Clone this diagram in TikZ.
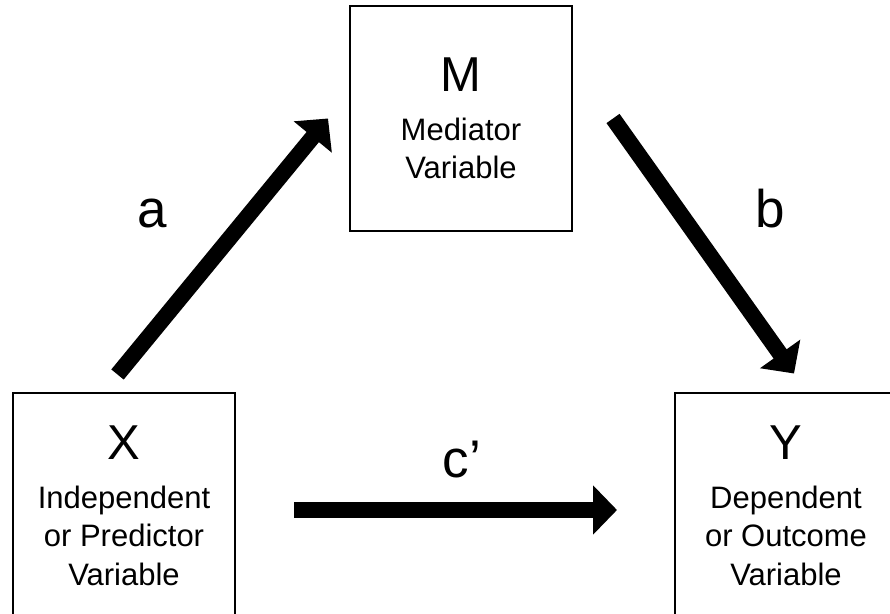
\documentclass[tikz,border=0pt]{standalone}
\usepackage{fontspec}
\setmainfont{Liberation Sans}
\usetikzlibrary{arrows.meta}

\tikzset{
  varbox/.style={draw, line width=2pt, minimum width=222pt, minimum height=225pt,
    align=center, inner sep=0pt, font=\fontsize{31}{38.5}\selectfont},
  bigarrow/.style={line width=16pt, -{Triangle[length=24pt,width=48pt]}},
  pathlabel/.style={font=\fontsize{53}{53}\selectfont, inner sep=0pt}
}
\newcommand{\bigvar}[1]{{\fontsize{49}{49}\selectfont #1}}

\begin{document}
\begin{tikzpicture}[x=1pt,y=1pt]
  \useasboundingbox (0,0) rectangle (890,613);
  \clip (0,0) rectangle (890,613);

  % variable boxes
  \node[varbox] (M) at (461,494.5) {\bigvar{M}\\[10pt] Mediator\\ Variable};
  \node[varbox] (X) at (124,107) {\bigvar{X}\\[10pt] Independent\\ or Predictor\\ Variable};
  \node[varbox] (Y) at (786,107) {\bigvar{Y}\\[10pt] Dependent\\ or Outcome\\ Variable};

  % paths
  \draw[bigarrow] ([shift={(-6.5,18)}]X.north) -- ([shift={(-21,0)}]M.west);
  \draw[bigarrow] ([shift={(40,0)}]M.east) -- ([shift={(8,19)}]Y.north);
  \draw[bigarrow] ([shift={(58,-4)}]X.east) -- ([shift={(-57,-4)}]Y.west);

  \node[pathlabel] (a) at (152.5,399) {a};
  \node[pathlabel] (b) at (770,404.5) {b};
  \node[pathlabel] (c) at (462,153) {c’};
\end{tikzpicture}
\end{document}
